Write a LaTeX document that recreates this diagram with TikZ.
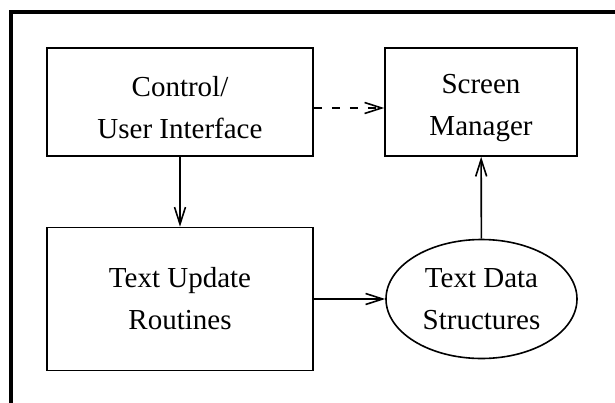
\documentclass[tikz,border=0pt]{standalone}
\usepackage{fontspec}
\setmainfont{Liberation Serif}
\usetikzlibrary{arrows.meta,shapes.geometric}
\begin{document}
\begin{tikzpicture}[x=1pt,y=1pt,line width=1.6pt,
  >={Straight Barb[length=17pt,width=11pt]},
  every node/.style={font=\fontsize{29}{42}\selectfont,align=center,inner sep=0pt},
  box/.style={draw,rectangle,minimum width=266pt},
  blob/.style={draw,ellipse,minimum width=191pt,minimum height=119pt},
  node distance=301pt]
\node(UI)[box,minimum height=108pt] at (180,-102){\rule{0pt}{32pt}Control/\\User Interface};
\node[right of = UI,box,minimum width=192pt,minimum height=108pt](SM){\rule{0pt}{32pt}Screen\\Manager};
\node[below of = UI,box,minimum height=143pt,node distance=197pt](TU){Text Update\\Routines};
\node[right of = TU,blob,node distance=301.5pt](TD){Text Data\\Structures};
\draw[->] (UI) -- (TU);
\draw[->] (TU) -- (TD);
\draw[->] (TD) -- (SM);
\draw[->,dash pattern=on 8pt off 10pt] ([yshift=-6pt]UI.east) -- ([yshift=-6pt]SM.west);
\draw[line width=4pt] (11,-12) rectangle (625,-410);
\pgfresetboundingbox
\path[use as bounding box] (0,0) rectangle (615,-402);
\end{tikzpicture}
\end{document}
